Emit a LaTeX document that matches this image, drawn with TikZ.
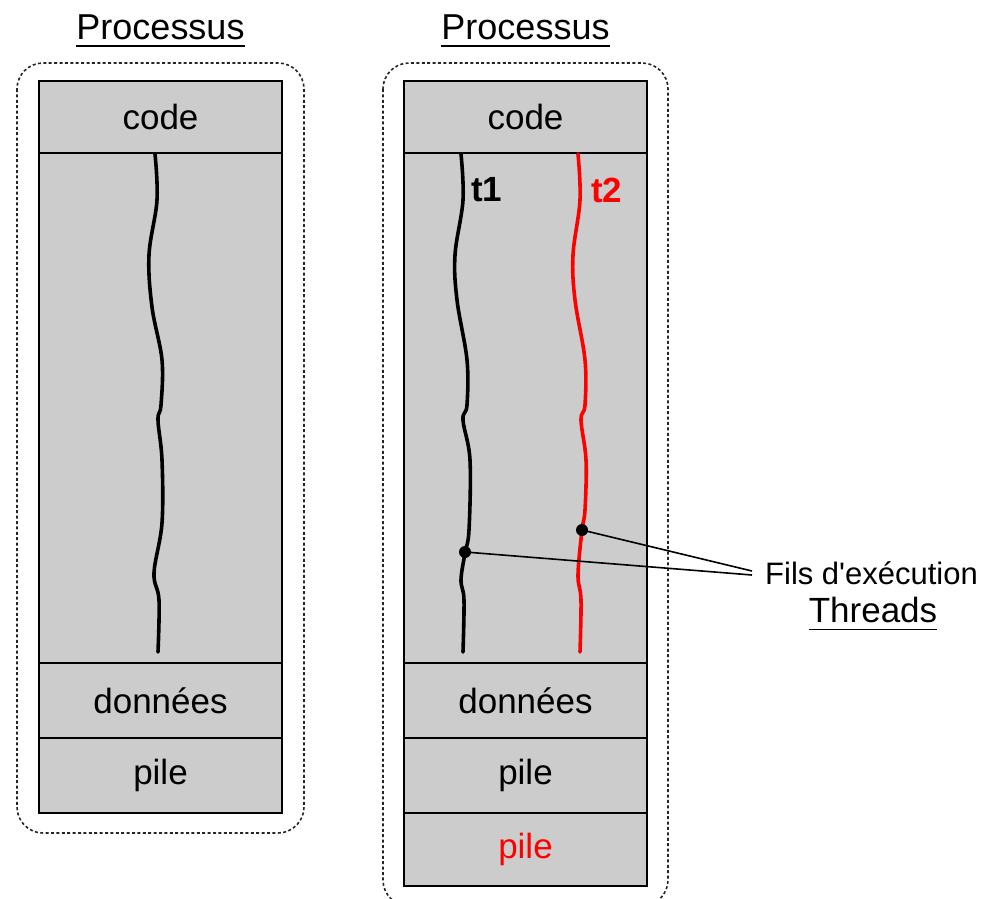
\documentclass[tikz,border=0pt]{standalone}
\usepackage{fontspec}
\setmainfont{Liberation Sans}
\definecolor{cellgray}{HTML}{CCCCCC}
\definecolor{thred}{HTML}{FF0000}
\begin{document}
\begin{tikzpicture}[x=1pt,y=-1pt,
  cell/.style={draw, fill=cellgray, line width=1.5pt, minimum width=243pt,
    inner sep=0pt, font=\fontsize{35}{40}\selectfont},
  frame/.style={draw=black!85, line width=1.6pt, dash pattern=on 3pt off 2.4pt,
    rounded corners=26pt},
  title/.style={inner sep=0pt, font=\fontsize{36}{40}\selectfont},
  uline/.style={line width=1.6pt},
  thread/.style={line width=3.6pt, line cap=round, smooth, tension=0.6},
  tlabel/.style={inner sep=0pt, anchor=west, font=\fontsize{35}{40}\selectfont\bfseries},
  pointer/.style={line width=1.6pt},
  dot/.style={circle, fill=black, inner sep=0pt, minimum size=12pt}]
\useasboundingbox (0,0) rectangle (986,898);

% ---- first process: a single flow of control ----
\node[title] (tl) at (160.5,27) {Processus};
\draw[uline] ([yshift=-7pt]tl.base west) -- ([yshift=-7pt]tl.base east);
\draw[frame] (17,63) rectangle (304,833);
\node[cell, minimum height=72pt]  (codeL) at (160.5,117)   {code};
\node[cell, minimum height=510pt] (execL) at (160.5,408)   {};
\node[cell, minimum height=75pt]  (dataL) at (160.5,700.5) {données};
\node[cell, minimum height=75pt]  (pileL) at (160.5,775.5) {pile};
\draw[thread] plot coordinates {(155,154) (157,200) (149,255) (152,307) (162,360)
  (161,405) (158,420) (162,460) (162,523) (154,573) (159,600) (158,652)};

% ---- second process: two threads, one stack each ----
\node[title] (tr) at (525.5,27) {Processus};
\draw[uline] ([yshift=-7pt]tr.base west) -- ([yshift=-7pt]tr.base east);
\draw[frame] (383,63) rectangle (668,906);
\node[cell, minimum height=72pt]  (codeR)  at (525.5,117)   {code};
\node[cell, minimum height=510pt] (execR)  at (525.5,408)   {};
\node[cell, minimum height=75pt]  (dataR)  at (525.5,700.5) {données};
\node[cell, minimum height=75pt]  (pileR)  at (525.5,775.5) {pile};
\node[cell, minimum height=73pt, text=thred] (pileR2) at (525.5,849.5) {pile};

\draw[thread] plot coordinates {(461,154) (463,200) (455,255) (457,300) (467,360)
  (467,405) (463,420) (470,460) (469,530) (465,553) (461,580) (464,600) (463,652)};
\draw[thread, draw=thred] plot coordinates {(578,154) (580,200) (573,255) (575,300)
  (585,360) (585,405) (581,420) (586,460) (585,510) (582,530) (578,575) (581,600) (580,652)};
\node[tlabel] (t1) at (471,190) {t1};
\node[tlabel, text=thred] (t2) at (591,190) {t2};

% ---- callout ----
\node[dot] (d1) at (465,552) {};
\node[dot] (d2) at (582,530) {};
\node[inner sep=0pt, anchor=west, font=\fontsize{31}{36}\selectfont] (fils) at (765,573) {Fils d\textquotesingle exécution};
\node[inner sep=0pt, font=\fontsize{35}{40}\selectfont] (thr) at (873,610) {Threads};
\draw[uline] ([yshift=-7pt]thr.base west) -- ([yshift=-7pt]thr.base east);
\coordinate (j1) at (752,575);
\coordinate (j2) at (752,571);
\draw[pointer] (d1.center) -- (j1);
\draw[pointer] (d2.center) -- (j2);
\end{tikzpicture}
\end{document}
